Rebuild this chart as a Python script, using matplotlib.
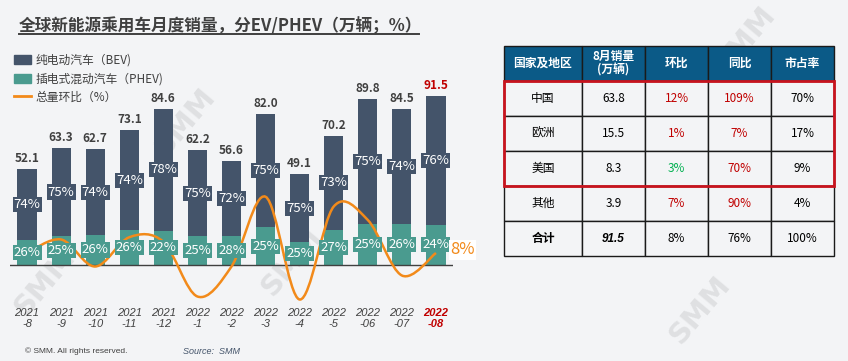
import matplotlib

matplotlib.use("Agg")

import matplotlib.pyplot as plt
import numpy as np
from matplotlib.lines import Line2D
from matplotlib.patches import Patch, PathPatch, Rectangle
from matplotlib.path import Path

plt.rcParams["font.family"] = ["Noto Sans CJK SC", "DejaVu Sans"]

# ---- data ----
MONTHS = ["2021\n-8", "2021\n-9", "2021\n-10", "2021\n-11", "2021\n-12",
          "2022\n-1", "2022\n-2", "2022\n-3", "2022\n-4", "2022\n-5",
          "2022\n-06", "2022\n-07", "2022\n-08"]
TOTAL = [52.1, 63.3, 62.7, 73.1, 84.6, 62.2, 56.6, 82.0, 49.1, 70.2, 89.8, 84.5, 91.5]
BEV_SHARE = [74, 75, 74, 74, 78, 75, 72, 75, 75, 73, 75, 74, 76]
PHEV_SHARE = [26, 25, 26, 26, 22, 25, 28, 25, 25, 27, 25, 26, 24]
MOM = [8, 17, -1, 18.5, 15.5, -21, -1, 45.5, -23, 39, 30, -7, 8]

TABLE_HEADER = ["国家及地区", "8月销量\n(万辆)", "环比", "同比", "市占率"]
REGIONS = ["中国", "欧洲", "美国", "其他", "合计"]
VOLUME = ["63.8", "15.5", "8.3", "3.9", "91.5"]
REGION_MOM = ["12%", "1%", "3%", "7%", "8%"]
REGION_YOY = ["109%", "7%", "70%", "90%", "76%"]
REGION_SHARE = ["70%", "17%", "9%", "4%", "100%"]
MOM_COLORS = ["#C00000", "#C00000", "#00B050", "#C00000", "black"]
YOY_COLORS = ["#C00000", "#C00000", "#C00000", "#C00000", "black"]

# ---- style ----
BG = "#F3F4F6"
BEV_C = "#44546A"
PHEV_C = "#4A9B8F"
LINE_C = "#F28A1A"
TEXT_C = "#404040"
RED = "#C00000"
HEAD_C = "#0B5A87"

W, H = 848, 361


def box(x0, y0, x1, y1):
    return [x0 / W, 1 - y1 / H, (x1 - x0) / W, (y1 - y0) / H]


def smooth_path(xs, ys):
    pts = np.column_stack([xs, ys]).astype(float)
    padded = np.vstack([pts[0], pts, pts[-1]])
    verts = [pts[0]]
    codes = [Path.MOVETO]
    for i in range(len(pts) - 1):
        p0, p1, p2, p3 = padded[i], padded[i + 1], padded[i + 2], padded[i + 3]
        verts += [p1 + (p2 - p0) / 6, p2 - (p3 - p1) / 6, p2]
        codes += [Path.CURVE4] * 3
    return Path(verts, codes)


fig = plt.figure(figsize=(W / 100, H / 100), dpi=100)
fig.patch.set_facecolor(BG)

# faint watermarks
for wx, wy in [(185, 122), (292, 262), (45, 282), (745, 40),
               (590, 165), (575, 215), (700, 310)]:
    fig.text(wx / W, 1 - wy / H, "SMM", fontsize=21, fontweight="bold",
             color="#DFE0E2", rotation=50, ha="center", va="center",
             family="DejaVu Sans", zorder=-1)

# ---- bar chart ----
ax = fig.add_axes(box(10, 88, 453, 305))
ax.set_facecolor("none")
x = np.arange(len(TOTAL))
total = np.array(TOTAL)
phev = total * np.array(PHEV_SHARE) / 100
bev = total - phev

ax.bar(x, phev, width=0.56, color=PHEV_C, zorder=2)
ax.bar(x, bev, bottom=phev, width=0.56, color=BEV_C, zorder=2)
ax.axhline(0, color=TEXT_C, lw=1.0, zorder=3)
ax.set_xlim(-0.5, 12.5)
ax.set_ylim(-21.7, 96.0)
for s in ax.spines.values():
    s.set_visible(False)
ax.set_yticks([])
ax.set_xticks(x)
ax.set_xticklabels(MONTHS, fontsize=8, style="italic", color=TEXT_C,
                   family="Liberation Sans", linespacing=1.15)
ax.tick_params(axis="x", length=0, pad=2)
last = ax.get_xticklabels()[-1]
last.set_color(RED)
last.set_fontweight("bold")

for i in x:
    color = RED if i == len(x) - 1 else TEXT_C
    ax.text(i, total[i] + 2.2, f"{TOTAL[i]:.1f}", ha="center", va="bottom",
            fontsize=8.5, fontweight="bold", color=color, zorder=4)

# line on its own scale
ax2 = ax.twinx()
ax2.set_ylim(-26.67, 118.0)
ax2.set_yticks([])
for s in ax2.spines.values():
    s.set_visible(False)
ax2.add_patch(PathPatch(smooth_path(x, MOM), fill=False, edgecolor=LINE_C,
                        lw=1.8, zorder=2, clip_on=False))

# share labels sit above the line
for i in x:
    ax2.text(i, phev[i] + bev[i] / 2, f"{BEV_SHARE[i]}%", transform=ax.transData,
             ha="center", va="center", fontsize=9.5, color="white", zorder=3,
             bbox=dict(boxstyle="square,pad=0.08", fc=BEV_C, ec="none"))
    ax2.text(i, phev[i] / 2, f"{PHEV_SHARE[i]}%", transform=ax.transData,
             ha="center", va="center", fontsize=9.5, color="white", zorder=3,
             bbox=dict(boxstyle="square,pad=0.08", fc=PHEV_C, ec="none"))
ax2.text(x[-1] + 0.42, MOM[-1] + 2, f"{MOM[-1]}%", ha="left", va="center",
         fontsize=12, color=LINE_C, zorder=4,
         bbox=dict(boxstyle="square,pad=0.1", fc="white", ec="none"))

# ---- title, legend, footer ----
fig.text(19 / W, 1 - 26 / H, "全球新能源乘用车月度销量，分EV/PHEV（万辆；%）",
         fontsize=12, fontweight="bold", color=TEXT_C, va="center")
fig.add_artist(Line2D([19 / W, 419 / W], [1 - 34 / H, 1 - 34 / H],
                      color=TEXT_C, lw=1.4))

handles = [Patch(color=BEV_C), Patch(color=PHEV_C), Line2D([], [], color=LINE_C, lw=2)]
fig.legend(handles, ["纯电动汽车（BEV)", "插电式混动汽车（PHEV)", "总量环比（%）"],
           loc="upper left", bbox_to_anchor=(14 / W, 1 - 54 / H), frameon=False,
           fontsize=8.5, handlelength=1.4, handleheight=0.8, handletextpad=0.4,
           labelspacing=0.45, borderpad=0, borderaxespad=0, labelcolor=TEXT_C)

fig.text(25 / W, 1 - 351 / H, "© SMM. All rights reserved.", fontsize=6,
         color=TEXT_C, va="center", family="Liberation Sans")
fig.text(183 / W, 1 - 351 / H, "Source:  SMM", fontsize=6.5, style="italic",
         color="#44546A", va="center", family="Liberation Sans")

# ---- table ----
ax_t = fig.add_axes(box(504, 46, 834, 256))
ax_t.axis("off")
rows = [list(r) for r in zip(REGIONS, VOLUME, REGION_MOM, REGION_YOY, REGION_SHARE)]
tbl = ax_t.table(cellText=rows, colLabels=TABLE_HEADER, cellLoc="center",
                 colWidths=[78, 63, 63, 63, 63], bbox=[0, 0, 1, 1])
tbl.auto_set_font_size(False)
for (r, c), cell in tbl.get_celld().items():
    cell.set_edgecolor("#1A1A1A")
    cell.set_linewidth(1.0)
    txt = cell.get_text()
    txt.set_fontsize(8.5)
    if r == 0:
        cell.set_facecolor(HEAD_C)
        txt.set_color("white")
        txt.set_fontweight("bold")
        txt.set_linespacing(1.0)
    else:
        cell.set_facecolor(BG)
        txt.set_color("black")
        if c == 2:
            txt.set_color(MOM_COLORS[r - 1])
        if c == 3:
            txt.set_color(YOY_COLORS[r - 1])
        if r == len(REGIONS) and c in (0, 1):
            txt.set_fontweight("bold")
            txt.set_fontstyle("italic")
            if c == 1:
                txt.set_fontfamily("Liberation Sans")

ax_t.add_patch(Rectangle((0, 2 / 6), 1, 3 / 6, transform=ax_t.transAxes,
                         fill=False, ec="#C8141E", lw=2.0, zorder=10, clip_on=False))

fig.savefig("out.png", dpi=100, facecolor=BG)
